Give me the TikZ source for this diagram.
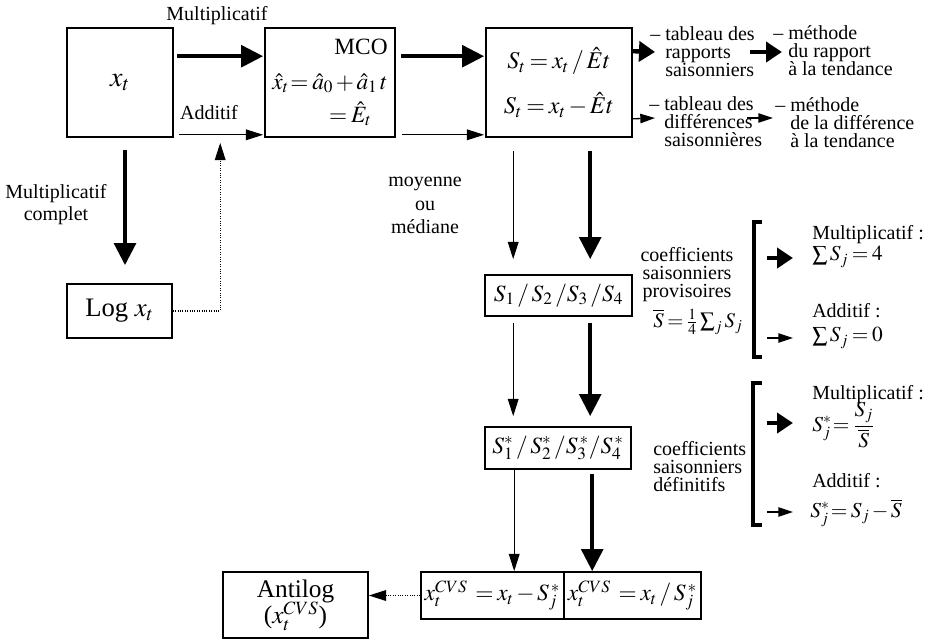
\documentclass[tikz,border=0pt]{standalone}
\usepackage{mathptmx}
\usepackage{fontspec}
\setmainfont{Liberation Serif}
\usetikzlibrary{arrows.meta,calc}
\newcommand{\fs}[2]{\fontsize{#1}{#2}\selectfont\lineskiplimit=-50pt\thickmuskip=3mu plus 2mu\medmuskip=2mu plus 1mu\relax}
\newcommand{\ft}[1]{\fs{15}{#1}}
\begin{document}
\begin{tikzpicture}[x=0.75pt,y=-0.75pt,
  every node/.style={font=\ft{13.5pt}, inner sep=0pt},
  box/.style={draw, line width=1.2pt},
  thk/.style={line width=3.3pt, -{Triangle[length=16.5pt,width=16pt]}},
  thks/.style={line width=3.3pt, -{Triangle[length=12pt,width=15pt]}},
  thn/.style={line width=1pt, -{Triangle[length=13pt,width=8pt]}},
  thns/.style={line width=1pt, -{Triangle[length=11pt,width=7pt]}},
  dotl/.style={line width=1pt, dash pattern=on 0.8pt off 1pt, -{Triangle[length=13pt,width=8pt]}},
  brk/.style={line width=2.6pt}]
\useasboundingbox (0,0) rectangle (929,640);

% boxes
\node[box, minimum width=79.5pt, minimum height=81.75pt, font=\fs{21}{20}] (xt) at (120,82.5) {$x_t$};
\node[box, minimum width=97.5pt, minimum height=81.75pt, align=right, font=\fs{17.5}{17}] (mco) at (330,82.5)
  {MCO\\[9pt]$\hat{x}_t\!=\hat{a}_0+\hat{a}_1\,t$\\[8pt]$=\hat{E}_t$\hspace*{12pt}};
\node[box, minimum width=109.5pt, minimum height=81.75pt, align=center, font=\fs{18}{18}] (st) at (559,82.5)
  {$S_t = x_t\,/\,\hat{E}t$\\[15.75pt]$S_t = x_t - \hat{E}t$};
\node[box, minimum width=78.75pt, minimum height=40.5pt, font=\fs{20}{20}] (log) at (119.5,311) {Log $x_t$};
\node[box, minimum width=110.25pt, minimum height=30.75pt, font=\fs{17.5}{18}] (s1) at (558.5,295.5) {$S_1\,/\,S_2\,/S_3\,/S_4$};
\node[box, minimum width=109.5pt, minimum height=31.5pt, font=\fs{17.5}{18}] (ss) at (558,448) {$S_1^*\,/\,S_2^*\,/S_3^{\,*}/S_4^{\,*}$};
\node[box, minimum width=107.25pt, minimum height=35.25pt, font=\fs{17.5}{18}] (bl) at (492.5,595.5) {$x_t^{CVS}\;= x_t - S_j^{\,*}$};
\node[box, minimum width=102.75pt, minimum height=35.25pt, font=\fs{17.5}{18}] (br) at (632.5,595.5) {$x_t^{CVS}\;= x_t\,/\,S_j^{\,*}$};
\node[box, minimum width=108.75pt, minimum height=49.5pt, align=center, font=\fs{19}{20}] (anti) at (295.5,605) {Antilog\\($x_t^{CVS}$)};

% labels
\node (lmult) at (217,16) {Multiplicatif};
\node (ladd) at (209,113) {Additif};
\node[align=center, anchor=north, font=\ft{16.5pt}] (lmc) at (56,184) {Multiplicatif\\complet};
\node[align=center, anchor=north, font=\ft{17.6pt}] (lmoy) at (425,177) {moyenne\\ou\\médiane};

\node[align=left, anchor=north west] (tab1) at (665,26) {\llap{– }tableau des\\rapports\\saisonniers};
\node[align=left, anchor=north west] (meth1) at (788,25) {\llap{– }méthode\\du rapport\\à la tendance};
\node[align=left, anchor=north west] (tab2) at (664,96) {\llap{– }tableau des\\différences\\saisonnières};
\node[align=left, anchor=north west] (meth2) at (790,97) {\llap{– }méthode\\de la différence\\à la tendance};

\node[align=center, anchor=north] (coef1) at (687,247) {coefficients\\saisonniers\\provisoires};
\node[font=\fs{15.5}{15}] (sbar) at (698,322) {$\overline{S} = \frac{1}{4}\sum\nolimits_j S_j$};
\node[align=left, anchor=north west] (coef2) at (653,441) {coefficients\\saisonniers\\définitifs};

\node[anchor=north west] (m1) at (812,225) {Multiplicatif :};
\node[anchor=west, font=\fs{16}{16}] (e1) at (812,257) {$\sum S_j = 4$};
\node[anchor=north west] (a1) at (812,303) {Additif :};
\node[anchor=west, font=\fs{16}{16}] (e2) at (812,338) {$\sum S_j = 0$};
\node[anchor=north west] (m2) at (812,385) {Multiplicatif :};
\node[anchor=west, font=\fs{16}{16}] (e3) at (812,425) {$S_j^*\!= {\displaystyle\frac{S_j}{\overline{S}}}$};
\node[anchor=north west] (a2) at (812,473) {Additif :};
\node[anchor=west, font=\fs{16}{16}] (e4) at (810,513) {$S_j^*\!= S_j - \overline{S}$};

% brackets
\draw[brk] (762,222) -- (754,222) -- (754,357) -- (762,357);
\draw[brk] (762,383) -- (753,383) -- (753,525) -- (762,525);

% top connectors
\draw[thk] ($(xt.north east)+(3,29)$) -- ($(mco.north west)+(-1,29)$);
\draw[thn] ($(xt.south east)+(5,-3)$) -- ($(mco.south west)+(-1,-3)$);
\draw[thk] ($(mco.north east)+(5,29)$) -- ($(st.north west)+(-1,29)$);
\draw[thn] ($(mco.south east)+(6,-3)$) -- ($(st.south west)+(-1,-3)$);
\draw[thks] ($(st.north east)+(0,24)$) -- ($(tab1.north west)+(-10,26)$);
\draw[thks] ($(tab1.north west)+(85,26)$) -- ($(meth1.north west)+(-6,27)$);
\draw[thns] ($(st.south east)+(0,-19)$) -- ($(tab2.north west)+(-9,22)$);
\draw[thns] ($(tab2.north west)+(83,22)$) -- ($(meth2.north west)+(-17,21)$);

% left
\draw[thk] ($(xt.south)+(5,12)$) -- ($(log.north)+(5.5,-18)$);
\draw[dotl] (log.east) -| ($(mco.south west)+(-44,5)$);

% verticals
\draw[thn] ($(st.south west)+(28,13)$) -- ($(s1.north west)+(29,-15)$);
\draw[thk] ($(st.south west)+(105,13)$) -- ($(s1.north west)+(106,-15)$);
\draw[thn] ($(s1.south west)+(29,6)$) -- ($(ss.north west)+(29,-10)$);
\draw[thk] ($(s1.south west)+(106,6)$) -- ($(ss.north west)+(106,-10)$);
\draw[thn] ($(ss.south west)+(30,0)$) -- ($(bl.north west)+(94,0)$);
\draw[thk] ($(ss.south west)+(108,4)$) -- ($(br.north west)+(29,0)$);
\draw[dotl] (bl.west) -- (bl.west -| anti.east);

% bracket arrows
\draw[thks] ($(e1.west)+(-45,1)$) -- ($(e1.west)+(-19,1)$);
\draw[thns] ($(e2.west)+(-45,0)$) -- ($(e2.west)+(-19,0)$);
\draw[thks] ($(e3.west)+(-45,-2)$) -- ($(e3.west)+(-19,-2)$);
\draw[thns] ($(e4.west)+(-43,-1)$) -- ($(e4.west)+(-17,-1)$);
\end{tikzpicture}
\end{document}
